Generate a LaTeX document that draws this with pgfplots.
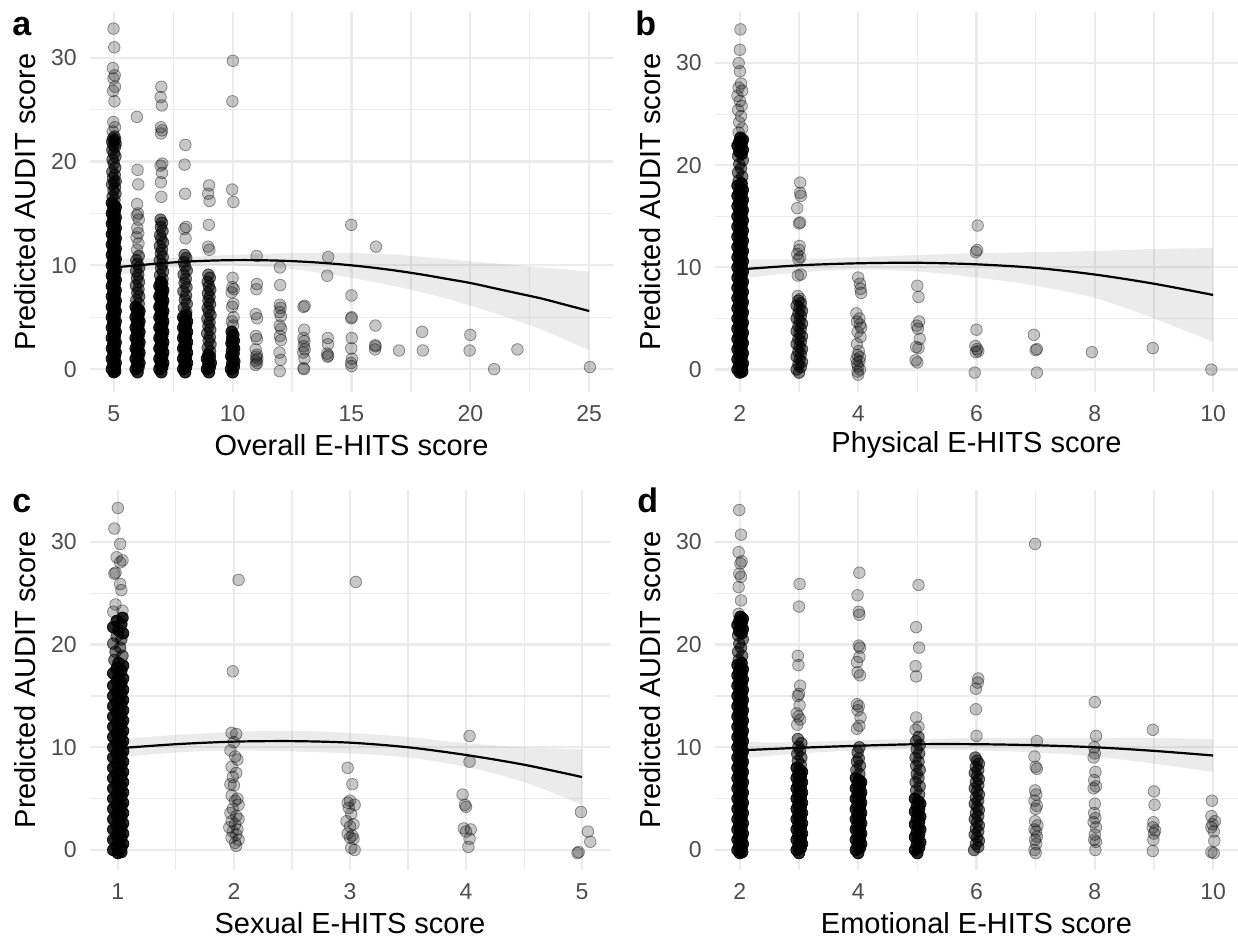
\documentclass[border=0pt]{standalone}
\usepackage{fontspec}
\setmainfont{Liberation Sans}
\usepackage{pgfplots}
\pgfplotsset{compat=1.18}
\usepgfplotslibrary{fillbetween}
\definecolor{tickgrey}{HTML}{4D4D4D}
\definecolor{gridgrey}{HTML}{EBEBEB}
\definecolor{bandgrey}{HTML}{999999}
\pgfplotsset{
 panel/.style={
  scale only axis, height=190pt,
  axis line style={draw=none},
  major tick length=0pt, minor tick length=0pt,
  grid=both,
  major grid style={draw=gridgrey, line width=1.1pt},
  minor grid style={draw=gridgrey, line width=0.6pt},
  ytick={0,10,20,30}, minor ytick={5,15,25},
  /pgf/number format/assume math mode=true,
  tick label style={font=\fontsize{11.5}{13}\selectfont, text=tickgrey},
  xticklabel style={anchor=north, inner sep=0pt, yshift=-6.4pt},
  yticklabel style={anchor=east, inner sep=0pt, xshift=-6.5pt},
  label style={font=\fontsize{14.5}{17}\selectfont},
  xlabel style={at={(axis description cs:0.5,-0.14)}, anchor=center, inner sep=0pt},
  ylabel style={at={(axis description cs:-0.1243,0.5)}, anchor=center, inner sep=0pt},
  ylabel={Predicted AUDIT score},
 },
 pts/.style={only marks, mark=*, mark size=2.9pt, mark options={draw=black, fill=black, fill opacity=0.22, draw opacity=0.4, line width=0.4pt}},
 mpts/.style={only marks, mark=*, mark size=2.9pt, mark options={draw=black, fill=black, fill opacity=0.5, draw opacity=0.6, line width=0.4pt}},
 dpts/.style={only marks, mark=*, mark size=2.9pt, mark options={draw=black, fill=black, fill opacity=0.85, draw opacity=0.9, line width=0.4pt}},
 fit/.style={smooth, black, line width=1.1pt},
 band/.style={fill=bandgrey, fill opacity=0.2, draw=none},
}
\begin{document}
\begin{tikzpicture}
% ---------------- panel a ----------------
\begin{axis}[panel, at={(45pt,-196pt)}, anchor=south west, width=261.5pt,
  xmin=4, xmax=26, ymin=-2.2, ymax=34.4,
  xtick={5,10,15,20,25}, minor xtick={7.5,12.5,17.5,22.5},
  xlabel={Overall E-HITS score}]
\addplot[dpts] coordinates {
(4.92,0)(5.04,0.2)(4.98,0.4)(5.08,0.6)(5,0.8)
(4.92,1)(5.04,1.2)(4.98,1.4)(5.08,1.6)(5,1.8)
(4.92,2)(5.04,2.2)(4.98,2.4)(5.08,2.6)(5,2.8)
(4.92,3)(5.04,3.2)(4.98,3.4)(5.08,3.6)(5,3.8)
(4.92,4)(5.04,4.2)(4.98,4.4)(5.08,4.6)(5,4.8)
(4.92,5)(5.04,5.2)(4.98,5.4)(5.08,5.6)(5,5.8)
(4.92,6)(5.04,6.2)(4.98,6.4)(5.08,6.6)(5,6.8)
(4.92,7)(5.04,7.2)(4.98,7.4)(5.08,7.6)(5,7.8)
(4.92,8)(5.04,8.2)(4.98,8.4)(5.08,8.6)(5,8.8)
(4.92,9)(5.04,9.2)(4.98,9.4)(5.08,9.6)(5,9.8)
(4.92,10)(5.04,10.2)(4.98,10.4)(5.08,10.6)(5,10.8)
(4.92,11)(5.04,11.2)(4.98,11.4)(5.08,11.6)(5,11.8)
(4.92,12)(5.04,12.2)(4.98,12.4)(5.08,12.6)(5,12.8)
(4.92,13)(5.04,13.2)(4.98,13.4)(5.08,13.6)(5,13.8)
(4.92,14)(5.04,14.2)(4.98,14.4)(5.08,14.6)(5,14.8)
(4.92,15)(5.04,15.2)(4.98,15.4)(5.08,15.6)(5,15.8)
(4.92,16)(5.0,-0.3)(5.06,-0.2)
(5.92,0)(6.04,0.2)(5.98,0.4)(6.08,0.6)(6,0.8)
(5.92,1)(6.04,1.2)(5.98,1.4)(6.08,1.6)(6,1.8)
(5.92,2)(6.04,2.2)(5.98,2.4)(6.08,2.6)(6,2.8)
(5.92,3)(6.04,3.2)(5.98,3.4)(6.08,3.6)(6,3.8)
(5.92,4)(6.04,4.2)(5.98,4.4)(6.08,4.6)(6,4.8)
(5.92,5)(6.04,5.2)(5.98,5.4)(6.08,5.6)(6,5.8)
(5.92,6)(6.0,-0.3)
(6.92,0)(7.04,0.2)(6.98,0.4)(7.08,0.6)(7,0.8)
(6.92,1)(7.04,1.2)(6.98,1.4)(7.08,1.6)(7,1.8)
(6.92,2)(7.04,2.2)(6.98,2.4)(7.08,2.6)(7,2.8)
(6.92,3)(7.04,3.2)(6.98,3.4)(7.08,3.6)(7,3.8)
(6.92,4)(7.04,4.2)(6.98,4.4)(7.08,4.6)(7,4.8)
(6.92,5)(7.04,5.2)(6.98,5.4)(7.08,5.6)(7,5.8)
(6.92,6)(7.04,6.2)(6.98,6.4)(7.08,6.6)(7,6.8)
(6.92,7)(7.04,7.2)(6.98,7.4)(7.08,7.6)(7,7.8)
(6.92,8)(7.04,8.2)(6.98,8.4)(7.0,-0.3)
(7.92,0)(8.04,0.2)(7.98,0.4)(8.08,0.6)(8,0.8)
(7.92,1)(8.04,1.2)(7.98,1.4)(8.08,1.6)(8,1.8)
(7.92,2)(8.04,2.2)(7.98,2.4)(8.08,2.6)(8,2.8)
(7.92,3)(8.04,3.2)(7.98,3.4)(8.08,3.6)(8,3.8)
(7.92,4)(8.04,4.2)(7.98,4.4)(8.08,4.6)(8,4.8)
(7.92,5)(8.04,5.2)(8.0,-0.3)
(8.92,0)(9.04,0.2)(8.98,0.4)(9.08,0.6)(9,0.8)(8.92,1)(9.04,1.2)(8.98,1.4)(9.0,-0.3)
(9.93,0)(10.05,0.25)(9.98,0.5)(10.07,0.75)(10.0,1.0)(9.94,1.25)(10.04,1.5)(9.97,1.75)(10.06,2.0)(10.0,2.25)(9.95,2.5)(10.05,2.75)(9.98,3.0)(10.03,3.3)(9.96,3.6)(10.0,-0.3)
};
\addplot[mpts] coordinates {
(5.03,16.3)(4.95,16.6)(5.07,16.9)(4.99,17.2)(5.05,17.5)(4.93,17.8)(5.02,18.0)(5.08,18.1)(4.97,18.4)(5.04,18.7)(4.94,19.0)(5.06,19.4)(5.0,19.8)
(4.95,20.2)(5.07,20.5)(5.01,20.8)(4.94,21.1)(5.05,21.4)(4.98,21.6)(5.08,21.7)(4.93,21.9)(5.02,22.0)(5.06,22.1)(4.97,22.2)(5.03,22.4)
(6.05,6.3)(5.95,6.65)(6.07,7.0)(5.99,7.35)(6.04,7.7)(5.93,8.05)(6.06,8.4)(5.98,8.75)(6.03,9.1)(5.94,9.45)(6.07,9.8)(6.0,10.15)(5.95,10.5)(6.05,10.9)
(7.05,8.7)(6.95,9.05)(7.07,9.4)(6.99,9.75)(7.04,10.1)(6.93,10.45)(7.06,10.8)(6.98,11.15)(7.03,11.5)(6.94,11.85)(7.07,12.2)(7.0,12.55)(6.95,12.9)(7.05,13.3)(6.98,13.7)(7.03,14.1)(6.97,14.4)
(8.05,5.5)(7.95,5.9)(8.07,6.3)(7.99,6.7)(8.04,7.1)(7.93,7.5)(8.06,7.9)(7.98,8.3)(8.03,8.7)(7.94,9.1)(8.07,9.5)(8.0,9.9)(7.95,10.3)(8.05,10.7)(7.98,11.0)
(9.05,1.7)(8.95,2.05)(9.07,2.4)(8.99,2.75)(9.04,3.1)(8.93,3.45)(9.06,3.8)(8.98,4.15)(9.03,4.5)(8.94,4.85)(9.07,5.2)(9.0,5.55)(8.95,5.9)(9.05,6.25)(8.98,6.6)(9.03,6.95)(8.96,7.3)(9.06,7.65)(9.0,8.0)(8.95,8.4)(9.04,8.8)(8.98,9.1)
};
\addplot[pts] coordinates {
(4.96,22.9)(5.05,23.3)(4.98,23.8)(5.03,25.8)(4.97,26.8)(5.05,27.2)(4.99,28.0)(5.04,28.3)(4.96,29.0)(5.02,31.0)(4.99,32.8)
(5.98,11.5)(6.04,12.1)(5.96,12.7)(6.03,13.1)(5.99,13.6)(6.05,14.4)(5.97,14.8)(6.02,15.0)(5.98,15.9)(6.03,17.8)(6.0,19.2)(5.97,24.3)
(7.0,16.6)(6.98,18.0)(7.03,18.9)(6.97,19.6)(7.04,19.8)(6.99,22.7)(7.03,23.0)(6.98,23.3)(7.02,25.4)(6.97,26.2)(7.0,27.2)
(8.02,12.6)(7.97,13.5)(8.04,13.7)(8.0,16.9)(7.98,19.7)(8.01,21.6)
(9.02,11.5)(8.97,11.8)(9.0,13.9)(9.03,16.2)(8.97,16.9)(9.01,17.7)
(10.02,4.2)(9.97,4.6)(10.04,5.0)(9.98,6.0)(10.03,6.3)(9.96,7.4)(10.05,7.7)(9.99,7.9)(10.0,8.8)(10.03,16.1)(9.98,17.3)(9.99,25.8)(10.01,29.7)
(10.97,0.4)(11.03,0.6)(10.98,0.8)(11.04,1.0)(10.99,1.2)(11.02,1.4)(10.97,1.9)(11.02,2.9)(10.98,3.2)(11.03,4.9)(10.97,5.3)(11.0,7.7)(11.02,8.2)(11.01,10.9)
(11.98,-0.2)(12.02,0.9)(11.97,1.6)(12.03,2.8)(11.99,3.2)(12.04,3.9)(11.98,4.2)(12.03,5.1)(11.97,5.5)(12.02,5.9)(11.99,6.2)(12.0,8.1)(11.99,9.8)
(13.0,0.0)(12.98,0.1)(13.02,1.0)(12.97,1.6)(13.03,1.9)(12.99,2.2)(13.02,2.7)(12.98,3.0)(13.01,3.8)(12.98,6.0)(13.03,6.1)
(13.99,1.2)(14.02,1.3)(13.98,1.5)(14.01,2.4)(14.0,3.0)(13.98,9.0)(14.02,10.8)
(15.0,0.3)(14.98,0.6)(15.02,1.0)(14.99,2.0)(15.01,3.0)(14.99,4.9)(15.01,5.0)(15.0,7.1)(14.99,13.9)
(15.99,1.9)(16.01,2.2)(16.0,2.3)(16.01,4.2)(16.03,11.8)
(17.0,1.8)(18.0,1.8)(17.97,3.6)(19.97,1.8)(20.0,3.3)(21.0,0.0)(21.98,1.9)(25.03,0.2)
};
\addplot[name path=au, draw=none, smooth] coordinates {(5,10.6)(7,10.7)(9,10.9)(11,11.1)(13,11.2)(15,11.2)(17,11.0)(19,10.6)(21,10.2)(23,9.8)(25,9.4)};
\addplot[name path=al, draw=none, smooth] coordinates {(5,9.0)(7,9.7)(9,10.0)(11,9.9)(13,9.5)(15,8.8)(17,7.9)(19,6.8)(21,5.4)(23,3.8)(25,1.8)};
\addplot[band] fill between[of=au and al];
\addplot[fit] coordinates {(5,9.8)(6,10.0)(7,10.2)(8,10.35)(9,10.45)(10,10.5)(11,10.5)(12,10.45)(13,10.35)(14,10.2)(15,10.0)(16,9.75)(17,9.45)(18,9.1)(19,8.7)(20,8.3)(21,7.8)(22,7.3)(23,6.8)(24,6.2)(25,5.6)};
\end{axis}
% ---------------- panel b ----------------
\begin{axis}[panel, at={(357.5pt,-196pt)}, anchor=south west, width=261.5pt,
  xmin=1.58, xmax=10.42, ymin=-2.2, ymax=35.0,
  xtick={2,4,6,8,10}, minor xtick={3,5,7,9},
  xlabel={Physical E-HITS score}]
\addplot[dpts] coordinates {
(1.96,0)(2.03,0.2)(1.99,0.4)(2.05,0.6)(2.01,0.8)
(1.96,1)(2.03,1.2)(1.99,1.4)(2.05,1.6)(2.01,1.8)
(1.96,2)(2.03,2.2)(1.99,2.4)(2.05,2.6)(2.01,2.8)
(1.96,3)(2.03,3.2)(1.99,3.4)(2.05,3.6)(2.01,3.8)
(1.96,4)(2.03,4.2)(1.99,4.4)(2.05,4.6)(2.01,4.8)
(1.96,5)(2.03,5.2)(1.99,5.4)(2.05,5.6)(2.01,5.8)
(1.96,6)(2.03,6.2)(1.99,6.4)(2.05,6.6)(2.01,6.8)
(1.96,7)(2.03,7.2)(1.99,7.4)(2.05,7.6)(2.01,7.8)
(1.96,8)(2.03,8.2)(1.99,8.4)(2.05,8.6)(2.01,8.8)
(1.96,9)(2.03,9.2)(1.99,9.4)(2.05,9.6)(2.01,9.8)
(1.96,10)(2.03,10.2)(1.99,10.4)(2.05,10.6)(2.01,10.8)
(1.96,11)(2.03,11.2)(1.99,11.4)(2.05,11.6)(2.01,11.8)
(1.96,12)(2.03,12.2)(1.99,12.4)(2.05,12.6)(2.01,12.8)
(1.96,13)(2.03,13.2)(1.99,13.4)(2.05,13.6)(2.01,13.8)
(1.96,14)(2.03,14.2)(1.99,14.4)(2.05,14.6)(2.01,14.8)
(1.96,15)(2.03,15.2)(1.99,15.4)(2.05,15.6)(2.01,15.8)
(1.96,16)(2.0,-0.3)(2.04,-0.2)
(2.03,16.2)(1.99,16.4)(2.05,16.6)(2.01,16.8)(1.96,17.0)(2.03,17.2)(1.99,17.4)(2.05,17.6)(2.01,17.8)(1.96,18.0)(2.03,18.2)
(2.03,21.1)(1.99,21.3)(2.05,21.5)(2.01,21.7)(1.96,21.9)(2.03,22.1)(1.99,22.3)(2.05,22.5)(2.01,22.7)
};
\addplot[mpts] coordinates {
(1.98,18.5)(2.04,18.9)(1.97,19.3)(2.02,19.7)(1.99,20.1)(2.05,20.5)(1.97,20.9)
(2.96,0)(3.03,0.25)(2.99,0.5)(3.05,0.75)(3.01,1.0)(2.96,1.25)(3.03,1.5)(2.99,1.75)(3.05,2.0)(3.01,2.25)(2.96,2.5)(3.03,2.75)(2.99,3.0)(3.05,3.25)
(3.01,3.5)(2.96,3.75)(3.03,4.0)(2.99,4.25)(3.05,4.5)(3.01,4.75)(2.96,5.0)(3.03,5.25)(2.99,5.5)(3.05,5.75)(3.01,6.0)(2.96,6.25)(3.03,6.5)(2.99,6.75)(3.0,-0.3)
};
\addplot[pts] coordinates {
(1.98,23.2)(2.04,23.6)(1.99,24.2)(2.02,24.8)(1.97,25.4)(2.03,25.8)(2.0,26.3)(1.96,26.8)(2.04,27.3)(1.98,27.6)(2.02,28.0)(2.0,29.2)(1.98,30.0)(2.0,31.3)(2.01,33.3)
(3.02,6.9)(2.98,7.2)(2.98,9.2)(3.03,9.3)(2.99,10.8)(3.02,11.0)(2.97,11.3)(3.0,11.7)(3.01,12.1)(3.0,14.3)(3.02,14.4)(2.97,15.8)(3.03,17.0)(3.02,17.3)(3.02,18.3)
(4.0,9.0)(4.03,8.4)(4.04,7.9)(4.05,7.5)(3.97,5.5)(4.02,5.0)(3.98,4.7)(4.03,4.4)(4.05,4.1)(3.99,3.7)(4.04,3.2)(3.98,2.5)(4.01,1.8)(3.99,1.4)(4.03,1.2)(3.97,1.0)(4.02,0.8)(3.98,0.6)(4.0,0.3)(4.03,0.0)(3.99,-0.2)(4.0,-0.5)
(5.0,8.2)(5.02,7.1)(5.03,4.7)(4.99,4.3)(5.01,4.0)(5.04,3.0)(4.98,2.2)(5.02,2.1)(4.97,0.9)(5.0,0.7)
(6.02,14.1)(6.01,11.7)(5.99,11.5)(6.0,3.9)(5.98,2.3)(6.01,2.0)(6.03,1.8)(5.99,1.7)(5.97,-0.3)
(6.97,3.4)(7.02,2.0)(7.0,1.9)(7.02,-0.3)
(7.95,1.7)(8.98,2.1)(9.97,0.0)
};
\addplot[name path=bu, draw=none, smooth] coordinates {(2,10.8)(3,10.8)(4,11.0)(5,11.2)(6,11.4)(7,11.5)(8,11.6)(9,11.8)(10,11.9)};
\addplot[name path=bl, draw=none, smooth] coordinates {(2,8.9)(3,9.5)(4,9.8)(5,9.6)(6,9.0)(7,8.2)(8,7.0)(9,5.0)(10,2.7)};
\addplot[band] fill between[of=bu and bl];
\addplot[fit] coordinates {(2,9.8)(3,10.2)(4,10.4)(5,10.45)(6,10.3)(7,9.95)(8,9.3)(9,8.4)(10,7.3)};
\end{axis}
% ---------------- panel c ----------------
\begin{axis}[panel, at={(45pt,-435pt)}, anchor=south west, width=260pt,
  xmin=0.76, xmax=5.24, ymin=-1.95, ymax=35.05,
  xtick={1,2,3,4,5}, minor xtick={1.5,2.5,3.5,4.5},
  xlabel={Sexual E-HITS score},
  ylabel style={at={(axis description cs:-0.125,0.5)}}]
\addplot[dpts] coordinates {
(0.96,0)(1.03,0.2)(0.99,0.4)(1.045,0.6)(1.005,0.8)
(0.96,1)(1.03,1.2)(0.99,1.4)(1.045,1.6)(1.005,1.8)
(0.96,2)(1.03,2.2)(0.99,2.4)(1.045,2.6)(1.005,2.8)
(0.96,3)(1.03,3.2)(0.99,3.4)(1.045,3.6)(1.005,3.8)
(0.96,4)(1.03,4.2)(0.99,4.4)(1.045,4.6)(1.005,4.8)
(0.96,5)(1.03,5.2)(0.99,5.4)(1.045,5.6)(1.005,5.8)
(0.96,6)(1.03,6.2)(0.99,6.4)(1.045,6.6)(1.005,6.8)
(0.96,7)(1.03,7.2)(0.99,7.4)(1.045,7.6)(1.005,7.8)
(0.96,8)(1.03,8.2)(0.99,8.4)(1.045,8.6)(1.005,8.8)
(0.96,9)(1.03,9.2)(0.99,9.4)(1.045,9.6)(1.005,9.8)
(0.96,10)(1.03,10.2)(0.99,10.4)(1.045,10.6)(1.005,10.8)
(0.96,11)(1.03,11.2)(0.99,11.4)(1.045,11.6)(1.005,11.8)
(0.96,12)(1.03,12.2)(0.99,12.4)(1.045,12.6)(1.005,12.8)
(0.96,13)(1.03,13.2)(0.99,13.4)(1.045,13.6)(1.005,13.8)
(0.96,14)(1.03,14.2)(0.99,14.4)(1.045,14.6)(1.005,14.8)
(0.96,15)(1.03,15.2)(0.99,15.4)(1.045,15.6)(1.005,15.8)
(0.96,16)(1.0,-0.3)(1.03,-0.2)
(1.03,16.2)(0.99,16.45)(1.045,16.7)(1.005,16.95)(0.96,17.2)(1.03,17.45)(0.99,17.7)(1.045,17.95)(1.005,18.2)
(1.045,21.1)(1.005,21.4)(0.96,21.7)(1.03,22.0)(0.99,22.3)(1.04,22.6)
};
\addplot[mpts] coordinates {
(0.97,18.5)(1.04,18.9)(0.98,19.3)(1.02,19.7)(0.96,20.1)(1.03,20.5)(0.99,20.8)
};
\addplot[pts] coordinates {
(0.96,23.2)(1.04,23.3)(0.98,23.9)(1.03,25.3)(1.02,25.9)(0.97,26.9)(0.98,27.0)(1.02,28.0)(1.04,28.2)(0.99,28.5)(1.02,29.8)(0.97,31.3)(1.0,33.3)
(2.04,26.3)(1.99,17.4)(1.98,11.4)(2.02,11.3)(2.0,10.5)(1.97,9.7)(2.01,9.1)(2.03,8.8)(1.98,8.1)(2.02,7.5)(1.99,7.1)(1.97,6.4)(2.0,6.3)(1.98,5.3)(2.03,5.0)(2.01,4.8)
(2.04,4.4)(1.99,4.0)(1.97,3.6)(2.02,3.3)(2.04,3.0)(1.98,2.8)(2.01,2.5)(1.96,2.2)(2.03,2.0)(1.99,1.8)(2.02,1.5)(1.98,1.2)(2.04,1.0)(2.01,0.7)(2.02,0.4)
(3.05,26.1)(2.98,8.0)(3.02,6.4)(3.0,4.8)(2.98,4.6)(3.04,4.4)(2.99,4.1)(3.01,3.5)(2.97,2.8)(3.03,2.5)(3.0,2.3)(2.98,1.6)(3.02,1.4)(3.0,1.2)(3.03,1.1)(3.01,0.2)(3.04,0.0)
(4.03,11.1)(4.03,8.6)(3.97,5.4)(3.99,4.4)(4.0,4.2)(3.98,2.1)(4.04,2.0)(4.0,1.8)(4.03,1.1)(4.02,0.3)
(4.99,3.7)(5.05,1.8)(5.07,0.8)(4.97,-0.2)(4.96,-0.3)
};
\addplot[name path=cu, draw=none, smooth] coordinates {(1,10.8)(1.5,11.2)(2,11.5)(2.5,11.6)(3,11.4)(3.5,11.0)(4,10.4)(4.5,10.0)(5,9.8)};
\addplot[name path=cl, draw=none, smooth] coordinates {(1,9.0)(1.5,9.5)(2,9.7)(2.5,9.6)(3,9.4)(3.5,9.0)(4,8.1)(4.5,6.6)(5,4.4)};
\addplot[band] fill between[of=cu and cl];
\addplot[fit] coordinates {(1,9.9)(1.5,10.3)(2,10.55)(2.5,10.6)(3,10.45)(3.5,10.0)(4,9.25)(4.5,8.3)(5,7.1)};
\end{axis}
% ---------------- panel d ----------------
\begin{axis}[panel, at={(357.5pt,-435pt)}, anchor=south west, width=261.5pt,
  xmin=1.58, xmax=10.42, ymin=-1.95, ymax=35.05,
  xtick={2,4,6,8,10}, minor xtick={3,5,7,9},
  xlabel={Emotional E-HITS score}]
\addplot[dpts] coordinates {
(1.96,0)(2.03,0.2)(1.99,0.4)(2.05,0.6)(2.01,0.8)
(1.96,1)(2.03,1.2)(1.99,1.4)(2.05,1.6)(2.01,1.8)
(1.96,2)(2.03,2.2)(1.99,2.4)(2.05,2.6)(2.01,2.8)
(1.96,3)(2.03,3.2)(1.99,3.4)(2.05,3.6)(2.01,3.8)
(1.96,4)(2.03,4.2)(1.99,4.4)(2.05,4.6)(2.01,4.8)
(1.96,5)(2.03,5.2)(1.99,5.4)(2.05,5.6)(2.01,5.8)
(1.96,6)(2.03,6.2)(1.99,6.4)(2.05,6.6)(2.01,6.8)
(1.96,7)(2.03,7.2)(1.99,7.4)(2.05,7.6)(2.01,7.8)
(1.96,8)(2.03,8.2)(1.99,8.4)(2.05,8.6)(2.01,8.8)
(1.96,9)(2.03,9.2)(1.99,9.4)(2.05,9.6)(2.01,9.8)
(1.96,10)(2.03,10.2)(1.99,10.4)(2.05,10.6)(2.01,10.8)
(1.96,11)(2.03,11.2)(1.99,11.4)(2.05,11.6)(2.01,11.8)
(1.96,12)(2.03,12.2)(1.99,12.4)(2.05,12.6)(2.01,12.8)
(1.96,13)(2.03,13.2)(1.99,13.4)(2.05,13.6)(2.01,13.8)
(1.96,14)(2.03,14.2)(1.99,14.4)(2.05,14.6)(2.01,14.8)
(1.96,15)(2.03,15.2)(1.99,15.4)(2.05,15.6)(2.01,15.8)
(1.96,16)(2.0,-0.3)(2.04,-0.2)
(2.03,16.2)(1.99,16.4)(2.05,16.6)(2.01,16.8)(1.96,17.0)(2.03,17.2)(1.99,17.4)(2.05,17.6)(2.01,17.8)(1.96,18.0)(2.03,18.2)
(2.03,21.1)(1.99,21.3)(2.05,21.5)(2.01,21.7)(1.96,21.9)(2.03,22.1)(1.99,22.3)(2.05,22.5)(2.01,22.7)
(2.96,0)(3.03,0.2)(2.99,0.4)(3.05,0.6)(3.01,0.8)
(2.96,1)(3.03,1.2)(2.99,1.4)(3.05,1.6)(3.01,1.8)
(2.96,2)(3.03,2.2)(2.99,2.4)(3.05,2.6)(3.01,2.8)
(2.96,3)(3.03,3.2)(2.99,3.4)(3.05,3.6)(3.01,3.8)
(2.96,4)(3.03,4.2)(2.99,4.4)(3.05,4.6)(3.01,4.8)
(2.96,5)(3.03,5.2)(2.99,5.4)(3.05,5.6)(3.01,5.8)
(2.96,6)(3.03,6.2)(2.99,6.4)(3.05,6.6)(3.01,6.8)
(2.96,7)(3.03,7.2)(2.99,7.4)(3.05,7.6)(3.01,7.8)
(2.96,8)(3.0,-0.3)
(3.96,0)(4.03,0.2)(3.99,0.4)(4.05,0.6)(4.01,0.8)
(3.96,1)(4.03,1.2)(3.99,1.4)(4.05,1.6)(4.01,1.8)
(3.96,2)(4.03,2.2)(3.99,2.4)(4.05,2.6)(4.01,2.8)
(3.96,3)(4.03,3.2)(3.99,3.4)(4.05,3.6)(4.01,3.8)
(3.96,4)(4.03,4.2)(3.99,4.4)(4.05,4.6)(4.01,4.8)
(3.96,5)(4.03,5.2)(3.99,5.4)(4.05,5.6)(4.01,5.8)
(3.96,6)(4.03,6.2)(3.99,6.4)(4.05,6.6)(4.01,6.8)
(3.96,7)(4.0,-0.3)
(4.96,0)(5.03,0.25)(4.99,0.5)(5.05,0.75)(5.01,1.0)(4.96,1.25)(5.03,1.5)(4.99,1.75)(5.05,2.0)(5.01,2.25)(4.96,2.5)
(5.03,2.75)(4.99,3.0)(5.05,3.25)(5.01,3.5)(4.96,3.75)(5.03,4.0)(4.99,4.25)(5.05,4.5)(5.01,4.75)(4.96,5.0)(5.0,-0.3)
};
\addplot[mpts] coordinates {
(1.98,18.5)(2.04,18.9)(1.97,19.3)(2.02,19.7)(1.99,20.1)(2.05,20.5)(1.97,20.9)
(3.03,8.3)(2.98,8.65)(3.04,9.0)(2.97,9.35)(3.02,9.7)(2.99,10.05)(3.04,10.4)(2.98,10.8)
(4.02,7.4)(3.97,7.8)(4.03,8.2)(3.98,8.6)(4.01,8.9)(3.99,9.5)(4.02,10.0)
(5.03,5.4)(4.98,5.8)(5.04,6.2)(4.97,6.6)(5.02,7.0)(4.99,7.4)(5.04,7.8)(4.98,8.2)(5.02,8.6)(4.97,9.0)(5.03,9.4)(4.99,9.8)(5.04,10.2)(4.98,10.6)(5.02,11.0)
(5.96,0)(6.03,0.3)(5.99,0.6)(6.04,0.9)(6.01,1.2)(5.97,1.5)(6.03,1.8)(5.99,2.1)(6.04,2.4)(6.01,2.7)(5.97,3.0)(6.03,3.3)(5.99,3.6)(6.04,3.9)(6.01,4.2)(5.97,4.5)
(6.03,4.8)(5.99,5.1)(6.04,5.4)(6.01,5.7)(5.97,6.0)(6.03,6.3)(5.99,6.6)(6.04,6.9)(6.01,7.2)(5.97,7.5)(6.03,7.8)(5.99,8.1)(6.04,8.4)(6.01,8.7)(5.98,9.0)
};
\addplot[pts] coordinates {
(1.98,23.0)(2.02,24.3)(1.98,25.6)(2.02,26.6)(1.99,26.9)(2.01,27.9)(2.03,28.1)(1.98,29.0)(2.02,30.7)(1.99,33.1)
(2.97,12.2)(3.02,12.7)(2.99,13.0)(2.96,13.3)(3.01,14.1)(2.98,15.0)(3.0,15.2)(3.02,16.0)(2.99,18.0)(2.98,18.9)(3.0,23.7)(3.01,25.9)
(3.98,11.8)(4.02,12.1)(4.04,12.9)(3.99,13.6)(4.01,14.0)(3.98,14.2)(4.03,17.0)(3.99,17.3)(3.98,18.3)(4.02,18.8)(4.03,19.7)(4.01,19.9)(4.02,22.9)(4.01,23.2)(3.99,24.8)(4.02,27.0)
(4.97,11.7)(5.02,12.0)(4.98,12.9)(4.98,16.9)(4.97,17.9)(5.03,19.7)(4.98,21.7)(5.02,25.8)
(6.0,11.1)(5.99,13.7)(5.99,15.7)(6.02,16.3)(6.03,16.7)
(6.99,29.8)(7.02,10.6)(6.98,9.1)(7.0,8.1)(7.02,7.9)(6.99,5.8)(7.01,5.4)(6.98,4.8)(7.02,4.3)(7.0,4.0)(6.99,2.8)(7.03,2.4)(6.98,2.0)(7.01,1.8)(7.02,1.3)(6.99,1.0)(7.01,0.6)(6.98,0.0)(7.0,-0.3)
(8.0,14.4)(8.02,11.1)(7.99,10.0)(8.0,9.4)(7.98,9.0)(8.01,7.6)(7.99,6.8)(8.02,6.2)(7.98,6.0)(8.0,4.5)(7.99,3.6)(8.01,3.1)(7.98,2.7)(8.02,2.2)(8.0,1.5)(7.99,1.0)(8.02,0.8)(8.01,0.0)
(8.98,11.7)(9.0,5.7)(9.01,4.4)(8.99,2.7)(8.98,2.2)(9.02,1.9)(9.0,1.6)(8.99,1.0)(8.98,-0.1)
(9.98,4.8)(9.97,3.3)(10.03,2.8)(9.99,2.5)(9.97,2.2)(10.01,1.8)(10.02,0.9)(9.97,-0.2)(10.01,-0.3)
};
\addplot[name path=du, draw=none, smooth] coordinates {(2,10.5)(3,10.5)(4,10.7)(5,10.8)(6,10.9)(7,10.9)(8,10.9)(9,10.9)(10,10.8)};
\addplot[name path=dl, draw=none, smooth] coordinates {(2,8.9)(3,9.4)(4,9.7)(5,9.8)(6,9.7)(7,9.5)(8,9.1)(9,8.4)(10,7.6)};
\addplot[band] fill between[of=du and dl];
\addplot[fit] coordinates {(2,9.7)(3,9.95)(4,10.15)(5,10.3)(6,10.3)(7,10.2)(8,10.0)(9,9.65)(10,9.2)};
\end{axis}
% panel letters
\node[anchor=base west, inner sep=0pt, font=\fontsize{17}{20}\selectfont\bfseries] at (6pt,-17.5pt) {a};
\node[anchor=base west, inner sep=0pt, font=\fontsize{17}{20}\selectfont\bfseries] at (317.5pt,-17.5pt) {b};
\node[anchor=base west, inner sep=0pt, font=\fontsize{17}{20}\selectfont\bfseries] at (6pt,-256pt) {c};
\node[anchor=base west, inner sep=0pt, font=\fontsize{17}{20}\selectfont\bfseries] at (318.5pt,-256pt) {d};
\pgfresetboundingbox
\path[use as bounding box] (0,0) rectangle (619pt,-472pt);
\end{tikzpicture}
\end{document}
